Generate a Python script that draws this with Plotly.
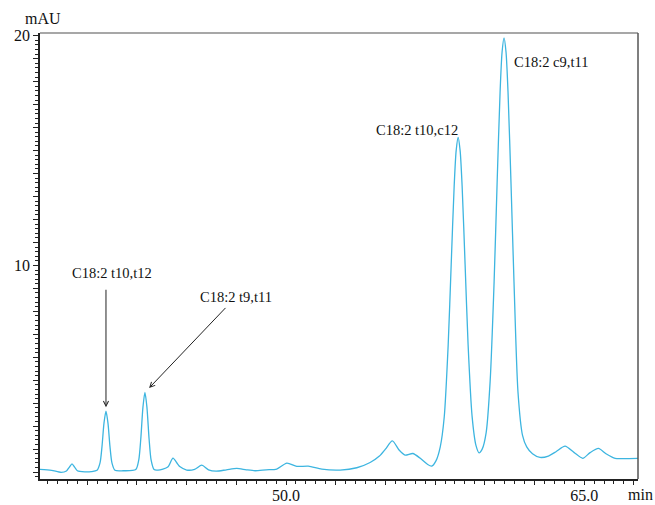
import plotly.graph_objects as go

# Retention time (min) and absorbance (mAU)
time_min = [37.62, 38.2, 38.68, 38.95, 39.1, 39.23, 39.36, 39.5, 39.88, 40.2,
            40.49, 40.64, 40.74, 40.84, 40.94, 41.04, 41.14, 41.24, 41.39, 41.8,
            42.44, 42.59, 42.69, 42.80, 42.90, 43.00, 43.11, 43.21, 43.36, 43.56,
            44.05, 44.31, 44.55, 44.67, 45.0, 45.4, 45.76, 46.1, 46.48, 47.0,
            47.52, 48.0, 48.44, 49.0, 49.53, 50.04, 50.54, 51.12, 51.8, 52.72,
            53.56, 54.23, 54.70, 55.0, 55.35, 55.7, 55.99, 56.38, 56.74, 57.1,
            57.33, 57.55, 57.76, 57.96, 58.16, 58.31, 58.46, 58.56, 58.66, 58.76,
            58.86, 59.01, 59.16, 59.36, 59.56, 59.71, 59.87, 60.07, 60.27, 60.47,
            60.62, 60.77, 60.87, 60.97, 61.07, 61.17, 61.32, 61.47, 61.67, 61.9,
            62.11, 62.4, 62.78, 63.2, 63.6, 64.04, 64.5, 64.93, 65.3, 65.72,
            66.1, 66.56, 67.0, 67.72]
absorb_mau = [1.12, 1.08, 0.99, 1.05, 1.22, 1.36, 1.22, 1.06, 1.01, 1.02,
              1.08, 1.40, 2.12, 3.13, 3.65, 3.13, 2.12, 1.40, 1.08, 1.06,
              1.11, 1.53, 2.43, 3.83, 4.47, 3.83, 2.43, 1.53, 1.11, 1.09,
              1.22, 1.61, 1.35, 1.23, 1.09, 1.12, 1.30, 1.10, 1.04, 1.10,
              1.16, 1.10, 1.06, 1.10, 1.13, 1.39, 1.25, 1.26, 1.13, 1.09,
              1.19, 1.42, 1.70, 2.00, 2.36, 1.95, 1.74, 1.81, 1.61, 1.35,
              1.26, 1.50, 2.10, 3.40, 6.57, 10.04, 13.46, 15.0, 15.57, 15.0,
              13.46, 10.04, 6.57, 3.45, 2.15, 1.84, 2.00, 2.72, 4.95, 9.29,
              13.57, 17.54, 19.28, 19.91, 19.28, 17.54, 13.57, 9.29, 4.50, 2.60,
              2.10, 1.80, 1.64, 1.70, 1.90, 2.13, 1.85, 1.60, 1.85, 2.03,
              1.80, 1.60, 1.59, 1.60]

peak_labels = ["C18:2 t10,t12", "C18:2 t9,t11", "C18:2 t10,c12", "C18:2 c9,t11"]
peak_times = [40.94, 42.90, 58.66, 60.97]
peak_heights = [3.65, 4.47, 15.57, 19.91]

x_tickvals = [40, 42.5, 45, 47.5, 50, 52.5, 55, 57.5, 60, 62.5, 65, 67.5]
x_ticktext = ["", "", "", "", "50.0", "", "", "", "", "", "65.0", ""]
y_tickvals = list(range(1, 21))
y_ticktext = ["10" if v == 10 else ("20" if v == 20 else "") for v in y_tickvals]

FONT = "Liberation Serif, Times New Roman, serif"

# plot area in page pixels
PX0, PX1, PY0, PY1 = 40, 638, 33, 479
W, H = 655, 505


def paper_x(px):
    return (px - PX0) / (PX1 - PX0)


def paper_y(py):
    return 1 - (py - PY0) / (PY1 - PY0)


fig = go.Figure()
fig.add_trace(go.Scatter(
    x=time_min, y=absorb_mau, mode="lines",
    line=dict(color="#3DB5E0", width=1.3, shape="spline", smoothing=0.7),
    hoverinfo="skip", showlegend=False))

# arrows (empty text), tip at peak apex
fig.add_annotation(x=peak_times[0], y=peak_heights[0], xref="x", yref="y",
                   text="", showarrow=True, ax=0, ay=-123, standoff=4,
                   arrowhead=5, arrowsize=1, arrowwidth=1, arrowcolor="#222")
fig.add_annotation(x=peak_times[1], y=peak_heights[1], xref="x", yref="y",
                   text="", showarrow=True, ax=82, ay=-86, standoff=6,
                   arrowhead=5, arrowsize=1, arrowwidth=1, arrowcolor="#222")

# text labels
label_pos = [(112, 273), (236, 297), (417, 130), (551, 62)]
for txt, (px, py) in zip(peak_labels, label_pos):
    fig.add_annotation(x=paper_x(px), y=paper_y(py),
                       xref="paper", yref="paper", text=txt, showarrow=False,
                       font=dict(family=FONT, size=14.5, color="#111"),
                       xanchor="center", yanchor="middle")

fig.add_annotation(x=paper_x(43), y=paper_y(19), xref="paper", yref="paper",
                   text="mAU", showarrow=False, xanchor="center", yanchor="middle",
                   font=dict(family=FONT, size=16, color="#111"))
fig.add_annotation(x=paper_x(640), y=paper_y(494), xref="paper", yref="paper",
                   text="min", showarrow=False, xanchor="center", yanchor="middle",
                   font=dict(family=FONT, size=16, color="#111"))

# top & right frame
fig.add_shape(type="line", xref="paper", yref="paper", x0=0, x1=1, y0=1, y1=1,
              line=dict(color="#8a8a8a", width=1.5))
fig.add_shape(type="line", xref="paper", yref="paper", x0=1, x1=1, y0=0, y1=1,
              line=dict(color="#555", width=1.5))

fig.update_layout(
    width=W, height=H,
    margin=dict(l=PX0, r=W - PX1, t=PY0, b=H - PY1, autoexpand=False),
    paper_bgcolor="white", plot_bgcolor="white",
    font=dict(family=FONT, size=16, color="#111"),
    xaxis=dict(range=[37.62, 67.71], showgrid=False, zeroline=False,
               showline=True, linecolor="#222", linewidth=1.5,
               tickmode="array", tickvals=x_tickvals, ticktext=x_ticktext,
               ticks="outside", ticklen=4, tickwidth=1, tickcolor="#222",
               ticklabelstandoff=-3,
               minor=dict(dtick=0.5, tick0=0, ticks="outside", ticklen=3,
                          tickcolor="#222", showgrid=False),
               tickfont=dict(family=FONT, size=16), automargin=False),
    yaxis=dict(range=[0.70, 20.12], showgrid=False, zeroline=False,
               showline=True, linecolor="#222", linewidth=1.5,
               tickmode="array", tickvals=y_tickvals, ticktext=y_ticktext,
               ticks="outside", ticklen=5, tickwidth=1, tickcolor="#222",
               minor=dict(dtick=0.2, tick0=0, ticks="outside", ticklen=3,
                          tickcolor="#222", showgrid=False),
               tickfont=dict(family=FONT, size=16), automargin=False),
)

fig.write_html("out.html", config={"displayModeBar": False},
               post_script="document.body.style.margin='0';"
                           "document.body.style.overflow='hidden';")
